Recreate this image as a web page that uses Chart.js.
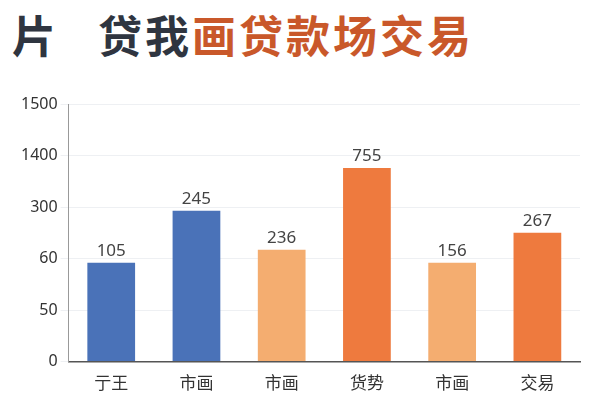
<!DOCTYPE html>
<html>
<head>
<meta charset="utf-8">
<script src="https://cdn.jsdelivr.net/npm/chart.js@4"></script>
<style>
  body { margin: 0; background: #fff; }
  #wrap { position: relative; width: 600px; height: 400px; }
  #title { position: absolute; left: 12px; top: 2px; font: bold 44px "Noto Sans CJK SC"; color: #2f3540; letter-spacing: 3px; white-space: nowrap; }
  #title span { color: #c9582a; }
  canvas { position: absolute; left: 0; top: 0; }
</style>
</head>
<body>
<div id="wrap">
  <div id="title">片&nbsp;&nbsp;&nbsp;贷我<span>画贷款场交易</span></div>
  <canvas id="chart" width="600" height="400"></canvas>
</div>
<script>
const categories = ['亍王', '市画', '市画', '货势', '市画', '交易'];
// bar heights as drawn, measured in gridline steps
const barHeights = [1.92, 2.93, 2.17, 3.76, 1.92, 2.5];
// printed value labels above bars
const valueLabels = ['105', '245', '236', '755', '156', '267'];
// y tick labels as printed, one per gridline
const tickLabels = ['0', '50', '60', '300', '1400', '1500'];
const barColors = ['#4a72b8', '#4a72b8', '#f4ad70', '#ee7a3e', '#f4ad70', '#ee7a3e'];

const valueLabelPlugin = {
  id: 'valueLabels',
  afterDatasetsDraw(chart) {
    const ctx = chart.ctx;
    ctx.save();
    ctx.font = '17px "Noto Sans"';
    ctx.fillStyle = '#444';
    ctx.textAlign = 'center';
    ctx.textBaseline = 'bottom';
    chart.getDatasetMeta(0).data.forEach((bar, i) => {
      ctx.fillText(valueLabels[i], bar.x, bar.y - 3);
    });
    ctx.restore();
  }
};

new Chart(document.getElementById('chart'), {
  type: 'bar',
  data: {
    labels: categories,
    datasets: [{
      data: barHeights,
      backgroundColor: barColors,
      barPercentage: 0.56,
      categoryPercentage: 1
    }]
  },
  options: {
    responsive: false,
    animation: false,
    layout: { padding: { top: 104, right: 20, left: 18, bottom: 4 } },
    plugins: { legend: { display: false }, tooltip: { enabled: false } },
    scales: {
      x: {
        grid: { display: false },
        border: { color: '#555', width: 1.5 },
        ticks: { color: '#333', font: { size: 17, family: 'Noto Sans CJK SC' } }
      },
      y: {
        min: 0, max: 5,
        ticks: {
          stepSize: 1,
          color: '#333',
          font: { size: 16, family: 'Noto Sans' },
          callback: v => tickLabels[v]
        },
        grid: { color: '#eef0f3' },
        border: { color: '#999' }
      }
    }
  },
  plugins: [valueLabelPlugin]
});
</script>
</body>
</html>
